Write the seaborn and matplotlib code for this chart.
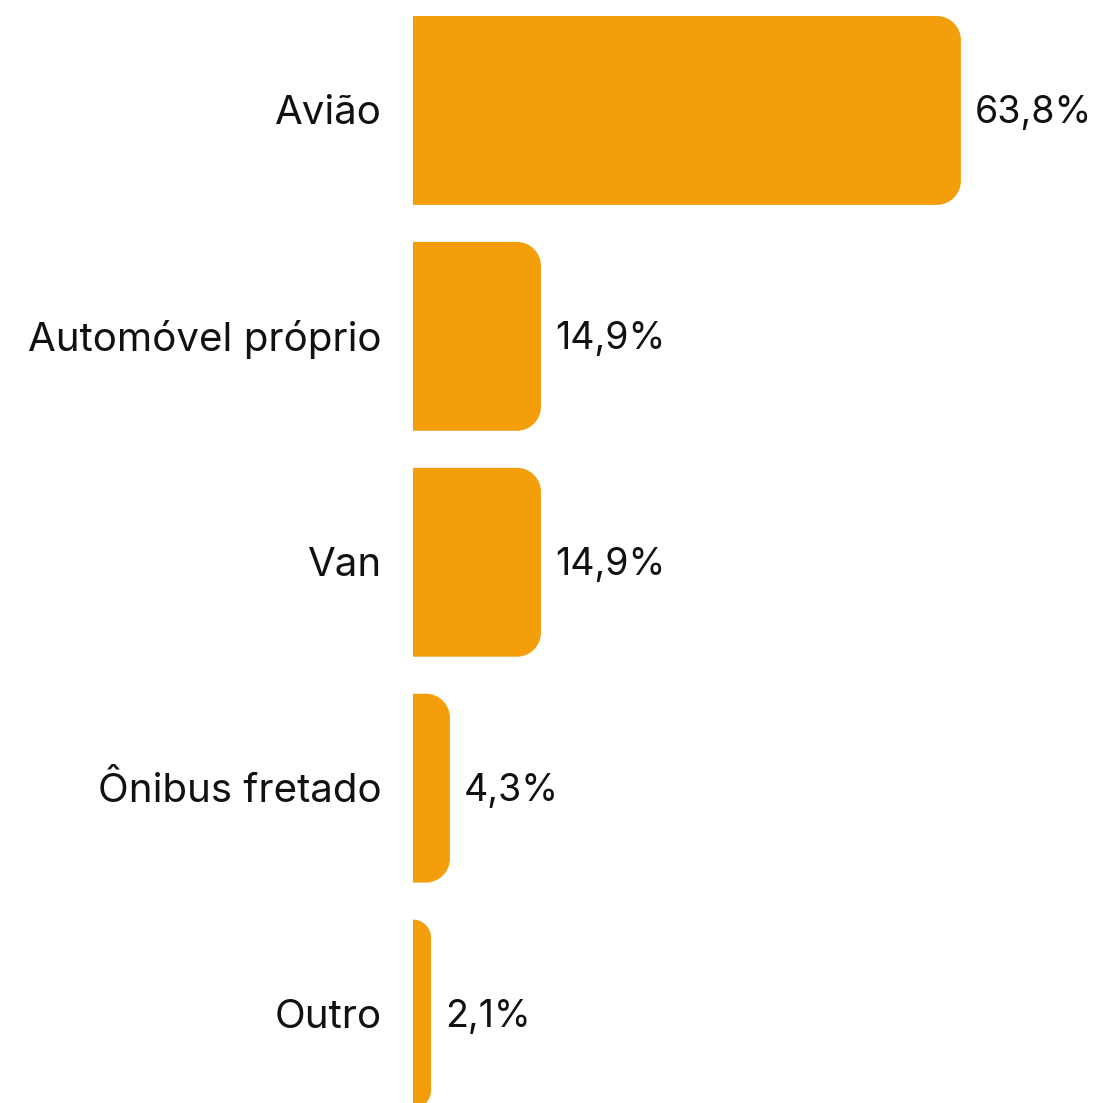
import pandas as pd
import matplotlib.pyplot as plt
import seaborn as sns
from matplotlib.path import Path
from matplotlib.patches import PathPatch

# Transport modes and share (%)
modes = ['Avião', 'Automóvel próprio', 'Van', 'Ônibus fretado', 'Outro']
shares = [63.8, 14.9, 14.9, 4.3, 2.1]
labels = ['63,8%', '14,9%', '14,9%', '4,3%', '2,1%']

bar_color = '#F59E0B'

df = pd.DataFrame({'Modo': modes, 'Percentual': shares})

sns.set_style('white')
plt.rcParams['font.family'] = ['Inter', 'DejaVu Sans']

W = H = 1103
fig = plt.figure(figsize=(W / 100, H / 100), dpi=100)
ax_left, ax_w = 413, 687
ax = fig.add_axes([ax_left / W, 0, ax_w / W, 1])

sns.barplot(data=df, x='Percentual', y='Modo', color=bar_color, width=0.836,
            saturation=1, ax=ax)

xmax = 80
pitch = 226
ax.set_xlim(0, xmax)
ax.set_ylim(4 + (H - 1014) / pitch, -110.5 / pitch)

px_x = xmax / ax_w   # data units per pixel (x)
px_y = 1 / pitch     # data units per pixel (y)

# swap the square bars for ones with rounded right corners
k = 0.5523
for p in list(ax.patches):
    x0, y0 = p.get_x(), p.get_y()
    w, h = p.get_width(), p.get_height()
    p.remove()
    r = min(24, w / px_x)
    rx, ry = r * px_x, r * px_y
    x1, y1 = x0 + w, y0 + h
    verts = [
        (x0, y0), (x1 - rx, y0),
        (x1 - rx + k * rx, y0), (x1, y0 + ry - k * ry), (x1, y0 + ry),
        (x1, y1 - ry),
        (x1, y1 - ry + k * ry), (x1 - rx + k * rx, y1), (x1 - rx, y1),
        (x0, y1), (x0, y0),
    ]
    codes = [Path.MOVETO, Path.LINETO,
             Path.CURVE4, Path.CURVE4, Path.CURVE4,
             Path.LINETO,
             Path.CURVE4, Path.CURVE4, Path.CURVE4,
             Path.LINETO, Path.CLOSEPOLY]
    ax.add_patch(PathPatch(Path(verts, codes), facecolor=bar_color,
                           edgecolor='none', clip_on=False))

dy = 3 * px_y  # nudge text a little down
for i, (v, lab) in enumerate(zip(shares, labels)):
    ax.text(v + 14 * px_x, i + dy, lab, va='center', ha='left', fontsize=27,
            color='#111111')
    ax.text(-31 * px_x, i + dy, modes[i], va='center', ha='right', fontsize=29,
            color='#111111')

ax.set_xticks([])
ax.set_yticks([])
ax.set_xlabel('')
ax.set_ylabel('')
sns.despine(ax=ax, left=True, bottom=True)

fig.savefig('out.png', dpi=100, facecolor='white')
